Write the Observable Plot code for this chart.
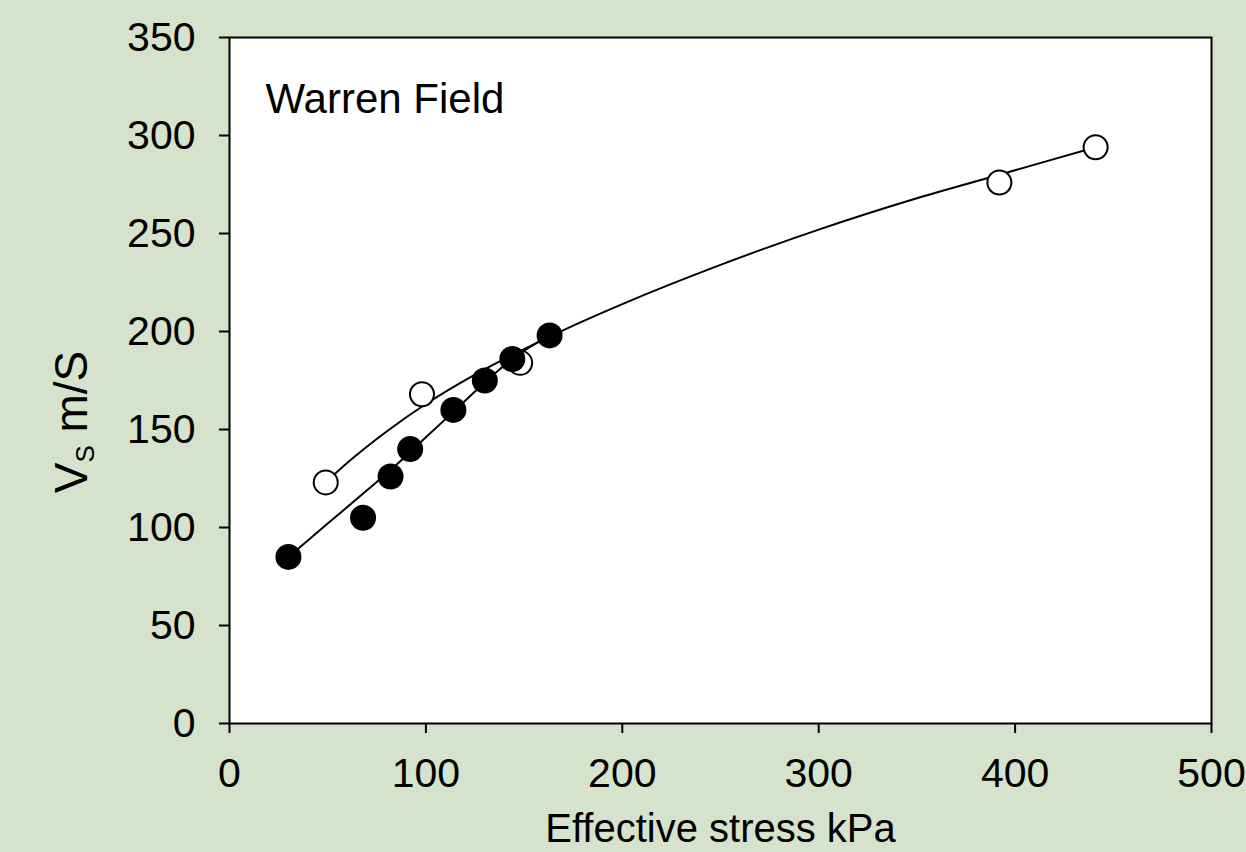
<!DOCTYPE html>
<html>
<head>
<meta charset="utf-8">
<script src="https://cdn.jsdelivr.net/npm/d3@7"></script>
<script src="https://cdn.jsdelivr.net/npm/@observablehq/plot@0.6"></script>
<style>
  html, body { margin: 0; padding: 0; background: #d5e3cc; }
  #chart { width: 1246px; height: 852px; }
  svg text { white-space: pre; }
</style>
</head>
<body>
<div id="chart"></div>
<script>
// ---- data ----
const stressTicks = [0, 100, 200, 300, 400, 500];
const vsTicks = [0, 50, 100, 150, 200, 250, 300, 350];

// open circles
const openStress = [49, 98, 148, 392, 441];
const openVs     = [123, 168, 184, 276, 294];

// filled circles
const filledStress = [30, 68, 82, 92, 114, 130, 144, 163];
const filledVs     = [85, 105, 126, 140, 160, 175, 186, 198];

// fitted curve through the open circles
const openFitStress = [49, 60, 80, 100, 125, 150, 175, 200, 250, 300, 350, 392, 441];
const openFitVs     = [123, 133, 149, 163, 178, 191, 203, 214, 234, 252, 268, 280, 294];

// fitted curve through the filled circles
const filledFitStress = [30, 50, 70, 85, 100, 115, 130, 144, 163];
const filledFitVs     = [85, 102, 119, 132, 146, 160, 174, 186, 198];

const titleText = "Warren Field";
const xLabelText = "Effective stress kPa";

// ---- tables built from the arrays ----
const openPts = openStress.map((s, i) => ({s, v: openVs[i]}));
const filledPts = filledStress.map((s, i) => ({s, v: filledVs[i]}));
const openFit = openFitStress.map((s, i) => ({s, v: openFitVs[i]}));
const filledFit = filledFitStress.map((s, i) => ({s, v: filledFitVs[i]}));

const font = "'Liberation Sans', Arial, Helvetica, sans-serif";

const plot = Plot.plot({
  width: 1246,
  height: 852,
  marginLeft: 229,
  marginRight: 35,
  marginTop: 37,
  marginBottom: 129,
  style: {background: "transparent", fontFamily: font, fontSize: "41px", color: "black", overflow: "visible"},
  x: {domain: [0, 500]},
  y: {domain: [0, 350]},
  marks: [
    Plot.frame({fill: "white", stroke: "none"}),
    Plot.line(openFit, {x: "s", y: "v", curve: "monotone-x", stroke: "black", strokeWidth: 2}),
    Plot.line(filledFit, {x: "s", y: "v", curve: "monotone-x", stroke: "black", strokeWidth: 2}),
    Plot.dot(openPts, {x: "s", y: "v", r: 12, fill: "white", stroke: "black", strokeWidth: 2}),
    Plot.dot(filledPts, {x: "s", y: "v", r: 13, fill: "black", stroke: "none"}),
    Plot.frame({stroke: "black", strokeWidth: 2}),
    Plot.axisX({ticks: stressTicks, tickSize: 10, tickPadding: 24, label: null, stroke: "black", strokeWidth: 2, fontSize: 41, fill: "black"}),
    Plot.axisY({ticks: vsTicks, tickSize: 10, tickPadding: 24, label: null, stroke: "black", strokeWidth: 2, fontSize: 41, fill: "black"}),
    Plot.text([titleText], {text: d => d, frameAnchor: "top-left", dx: 36, dy: 46, textAnchor: "start", lineAnchor: "top", fontSize: 42, fill: "black"}),
    Plot.text([xLabelText], {text: d => d, frameAnchor: "bottom", dy: 90, lineAnchor: "top", fontSize: 40, fill: "black"})
  ]
});

document.getElementById("chart").appendChild(plot);

// y-axis label with subscript
const svg = d3.select(plot);
const yl = svg.append("text")
  .attr("transform", "translate(87,422) rotate(-90)")
  .attr("text-anchor", "middle")
  .attr("font-family", font)
  .attr("font-size", 46)
  .attr("fill", "black");
yl.append("tspan").text("V");
yl.append("tspan").attr("font-size", 26).attr("dy", 7).text("S");
yl.append("tspan").attr("font-size", 46).attr("dy", -7).text(" m/S");
</script>
</body>
</html>
